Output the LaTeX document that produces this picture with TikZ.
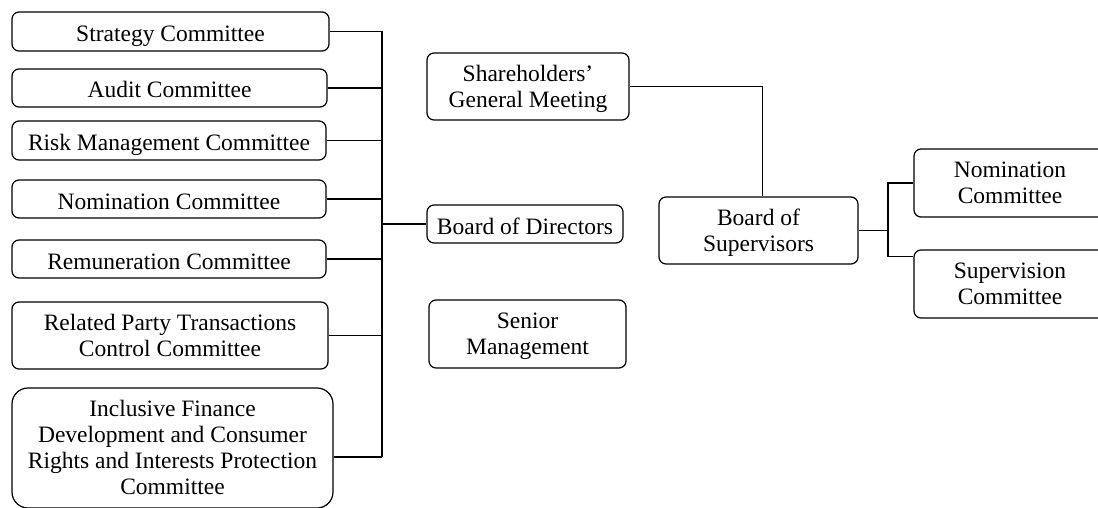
\documentclass[tikz,border=0pt]{standalone}
\usepackage{fontspec}
\setmainfont{Liberation Serif}
\usepackage{tikz}
\usetikzlibrary{positioning,calc}

\tikzset{
    box/.style={draw, line width=1.2pt, rounded corners=7pt, align=center, inner sep=0pt,
        text depth=1pt, font=\fontsize{23.5}{26}\selectfont},
    one/.style={box, text height=21pt},
    bus/.style={line width=1.8pt},
    link/.style={line width=1.2pt}
}

\begin{document}
\begin{tikzpicture}[x=1pt, y=-1pt]
    \useasboundingbox (0,0) rectangle (1098,508);
    \clip (0,0) rectangle (1098,508);
    % Committees of the board
    \node[one, minimum width=317pt, minimum height=39pt] (strat) at (170.5,31.5) {Strategy Committee};
    \node[one, minimum width=315pt, minimum height=38pt] (audit) at (169.5,88) {Audit Committee};
    \node[one, minimum width=314pt, minimum height=39pt] (risk) at (169,140.5) {Risk Management Committee};
    \node[one, minimum width=314pt, minimum height=38pt] (nomL) at (169,199) {Nomination Committee};
    \node[one, minimum width=314pt, minimum height=38pt] (remun) at (169,259) {Remuneration Committee};
    \node[box, minimum width=316pt, minimum height=67pt] (related) at (170,335.5) {Related Party Transactions\\Control Committee};
    \node[box, rounded corners=16pt, minimum width=321pt, minimum height=120pt] (incl) at (172.5,448)
        {Inclusive Finance\\Development and Consumer\\Rights and Interests Protection\\Committee};
    % Main bodies
    \node[box, minimum width=202pt, minimum height=67pt] (share) at (528,86.5) {Shareholders'\\General Meeting};
    \node[one, minimum width=196pt, minimum height=38pt] (bod) at (525,224) {Board of Directors};
    \node[box, minimum width=197pt, minimum height=68pt] (senior) at (527.5,334) {Senior\\Management};
    \node[box, minimum width=199pt, minimum height=67pt] (bos) at (758.5,230.5) {Board of\\Supervisors};
    % Committees of the supervisors
    \node[box, minimum width=192pt, minimum height=68pt] (nomR) at (1010,183) {Nomination\\Committee};
    \node[box, minimum width=192pt, minimum height=68pt] (sup) at (1010,284) {Supervision\\Committee};

    % Left bus
    \coordinate (busx) at (382,0);
    \coordinate (inclend) at ([yshift=-9pt]incl.east);
    \foreach \n in {strat,audit,risk,nomL,remun,related}
        \draw[link] (\n.east) -- (\n.east -| busx);
    \draw[link] (inclend) -- (inclend -| busx);
    \draw[bus] (strat.east -| busx) -- (inclend -| busx);
    \draw[link] (bod.west) -- (bod.west -| busx);

    % Right side
    \draw[link] (share.east) -| ([xshift=4pt]bos.north);
    \coordinate (fork) at (888,0);
    \coordinate (supend) at ([yshift=-7pt]sup.north west);
    \draw[link] (bos.east) -- (bos.east -| fork);
    \draw[link] (nomR.west) -- (nomR.west -| fork) -- (supend -| fork) -- (supend);
\end{tikzpicture}
\end{document}
